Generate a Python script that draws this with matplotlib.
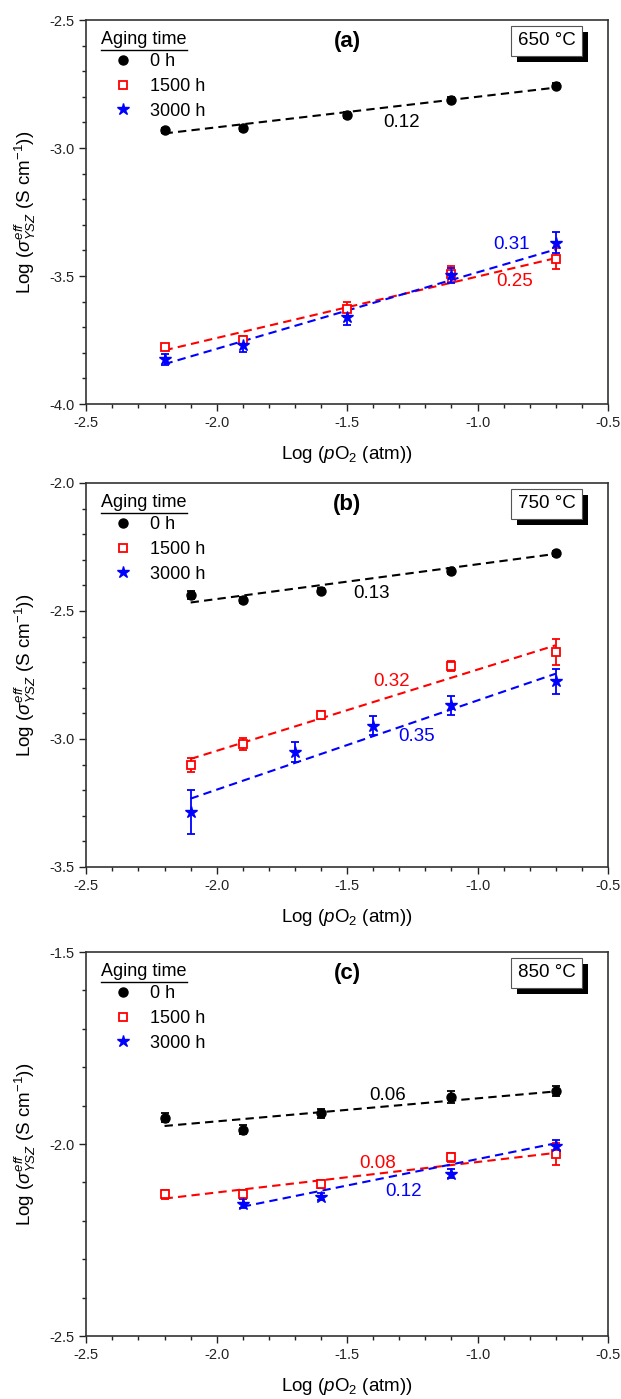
import matplotlib
matplotlib.use('Agg')
import matplotlib.pyplot as plt
import matplotlib.patheffects as pe
from matplotlib.ticker import MultipleLocator
from matplotlib.lines import Line2D

plt.rcParams['font.family'] = ['Liberation Sans', 'DejaVu Sans']
plt.rcParams['mathtext.fontset'] = 'custom'
plt.rcParams['mathtext.rm'] = 'Liberation Sans'
plt.rcParams['mathtext.it'] = 'Liberation Sans:italic'
plt.rcParams['mathtext.bf'] = 'Liberation Sans:bold'

series_labels = ['0 h', '1500 h', '3000 h']
colors = ['black', '#ff0000', '#0000ff']
temps = ['650 °C', '750 °C', '850 °C']
panel_tags = ['(a)', '(b)', '(c)']
ylims = [(-4.0, -2.5), (-3.5, -2.0), (-2.5, -1.5)]

# panel (a), 650 C
x_a0 = [-2.2, -1.9, -1.5, -1.1, -0.7]
y_a0 = [-2.930, -2.923, -2.871, -2.812, -2.757]
e_a0 = [0.010, 0.010, 0.010, 0.010, 0.010]
x_a1 = [-2.2, -1.9, -1.5, -1.1, -0.7]
y_a1 = [-3.777, -3.751, -3.630, -3.492, -3.432]
e_a1 = [0.012, 0.015, 0.030, 0.030, 0.040]
x_a2 = [-2.2, -1.9, -1.5, -1.1, -0.7]
y_a2 = [-3.826, -3.768, -3.660, -3.497, -3.370]
e_a2 = [0.020, 0.030, 0.030, 0.030, 0.042]

# panel (b), 750 C
x_b0 = [-2.1, -1.9, -1.6, -1.1, -0.7]
y_b0 = [-2.438, -2.458, -2.421, -2.344, -2.275]
e_b0 = [0.015, 0.012, 0.010, 0.010, 0.010]
x_b1 = [-2.1, -1.9, -1.6, -1.1, -0.7]
y_b1 = [-3.102, -3.020, -2.906, -2.715, -2.660]
e_b1 = [0.028, 0.025, 0.015, 0.020, 0.052]
x_b2 = [-2.1, -1.7, -1.4, -1.1, -0.7]
y_b2 = [-3.285, -3.050, -2.948, -2.869, -2.775]
e_b2 = [0.085, 0.040, 0.038, 0.037, 0.050]

# panel (c), 850 C
x_c0 = [-2.2, -1.9, -1.6, -1.1, -0.7]
y_c0 = [-1.931, -1.963, -1.920, -1.877, -1.862]
e_c0 = [0.012, 0.012, 0.012, 0.015, 0.012]
x_c1 = [-2.2, -1.9, -1.6, -1.1, -0.7]
y_c1 = [-2.131, -2.130, -2.104, -2.035, -2.026]
e_c1 = [0.012, 0.010, 0.010, 0.012, 0.028]
x_c2 = [-1.9, -1.6, -1.1, -0.7]
y_c2 = [-2.155, -2.137, -2.077, -2.005]
e_c2 = [0.012, 0.010, 0.012, 0.015]

# dashed linear fits: y at first and last x of each series
fit_a = [(-2.943, -2.764), (-3.790, -3.430), (-3.844, -3.396)]
fit_b = [(-2.467, -2.277), (-3.078, -2.634), (-3.233, -2.745)]
fit_c = [(-1.953, -1.863), (-2.142, -2.023), (-2.163, -1.998)]

# slope labels
slopes_a = ['0.12', '0.25', '0.31']
slopes_b = ['0.13', '0.32', '0.35']
slopes_c = ['0.06', '0.08', '0.12']
slope_pos_a = [(-1.293, -2.900), (-0.856, -3.523), (-0.871, -3.377)]
slope_pos_b = [(-1.405, -2.431), (-1.329, -2.775), (-1.232, -2.990)]
slope_pos_c = [(-1.344, -1.874), (-1.382, -2.050), (-1.283, -2.124)]

panels = [
    ([(x_a0, y_a0, e_a0), (x_a1, y_a1, e_a1), (x_a2, y_a2, e_a2)], fit_a, slopes_a, slope_pos_a),
    ([(x_b0, y_b0, e_b0), (x_b1, y_b1, e_b1), (x_b2, y_b2, e_b2)], fit_b, slopes_b, slope_pos_b),
    ([(x_c0, y_c0, e_c0), (x_c1, y_c1, e_c1), (x_c2, y_c2, e_c2)], fit_c, slopes_c, slope_pos_c),
]

marker_styles = [
    dict(marker='o', markersize=6.5, markerfacecolor='black', markeredgecolor='black'),
    dict(marker='s', markersize=5.5, markerfacecolor='white', markeredgecolor='#ff0000', markeredgewidth=1.3),
    dict(marker='*', markersize=9, markerfacecolor='#0000ff', markeredgecolor='#0000ff'),
]

fig = plt.figure(figsize=(6.21, 13.99), dpi=100)
bottoms = [0.7112, 0.3803, 0.0450]
left, width, height = 0.139, 0.840, 0.2745

for i, (series, fits, slopes, slope_pos) in enumerate(panels):
    ax = fig.add_axes([left, bottoms[i], width, height])
    handles = []
    for k, (xs, ys, es) in enumerate(series):
        ax.plot([xs[0], xs[-1]], fits[k], color=colors[k], lw=1.5,
                dashes=(4, 2.5), zorder=2)
        ax.errorbar(xs, ys, yerr=es, fmt='none', ecolor=colors[k],
                    elinewidth=1.3, capsize=3, capthick=1.3, zorder=3)
        ax.plot(xs, ys, linestyle='none', zorder=4, **marker_styles[k])
        handles.append(Line2D([], [], linestyle='none', label=series_labels[k],
                              **marker_styles[k]))
        ax.text(slope_pos[k][0], slope_pos[k][1], slopes[k], color=colors[k],
                fontsize=13.5, ha='center', va='center', zorder=5)

    ax.set_xlim(-2.5, -0.5)
    ax.set_ylim(*ylims[i])
    ax.xaxis.set_major_locator(MultipleLocator(0.5))
    ax.xaxis.set_minor_locator(MultipleLocator(0.1))
    ax.yaxis.set_major_locator(MultipleLocator(0.5))
    ax.yaxis.set_minor_locator(MultipleLocator(0.1))
    ax.xaxis.set_major_formatter(plt.FormatStrFormatter('%.1f'))
    ax.yaxis.set_major_formatter(plt.FormatStrFormatter('%.1f'))
    ax.tick_params(which='major', direction='out', length=5, width=1.0,
                   labelsize=10.5, colors='#222222')
    ax.tick_params(which='minor', direction='out', length=3, width=1.0,
                   colors='#222222')
    for sp in ax.spines.values():
        sp.set_linewidth(1.2)
        sp.set_color('#333333')

    ax.set_xlabel(r'Log ($p$O$_2$ (atm))', fontsize=13.5)
    ax.set_ylabel(r'Log ($\sigma^{eff}_{YSZ}$ (S cm$^{-1}$))', fontsize=13.5)
    ax.xaxis.set_label_coords(0.5, -0.105)
    ax.yaxis.set_label_coords(-0.093, 0.5)

    # legend
    ax.legend(handles=handles, loc='upper left', bbox_to_anchor=(0.044, 0.913),
              frameon=False, fontsize=13, handlelength=1.5, handletextpad=0.75,
              labelspacing=0.42, borderpad=0, borderaxespad=0)
    title = ax.text(0.029, 0.948, 'Aging time', transform=ax.transAxes,
                    fontsize=13, ha='left', va='center')

    ax.text(0.5, 0.945, panel_tags[i], transform=ax.transAxes, fontsize=16,
            fontweight='bold', ha='center', va='center')

    # temperature box with drop shadow
    tbox = ax.text(0.882, 0.946, temps[i], transform=ax.transAxes, fontsize=13.5,
                   ha='center', va='center', color='black', zorder=7,
                   bbox=dict(boxstyle='square,pad=0.35', facecolor='white',
                             edgecolor='#555555', linewidth=0.8))
    tbox.get_bbox_patch().set_path_effects([
        pe.SimplePatchShadow(offset=(4.5, -4.5), shadow_rgbFace='black', alpha=1.0),
        pe.Normal()])

    # underline the legend title
    fig.canvas.draw()
    bb = title.get_window_extent().transformed(ax.transAxes.inverted())
    ax.plot([bb.x0, bb.x1], [bb.y0 - 0.004, bb.y0 - 0.004], transform=ax.transAxes,
            color='black', lw=1.0, clip_on=False)

fig.savefig('out.png', dpi=100)
